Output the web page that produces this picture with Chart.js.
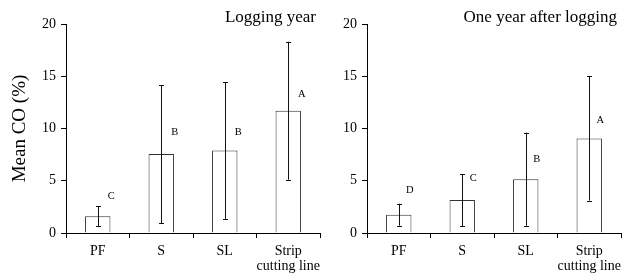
<!DOCTYPE html>
<html>
<head>
<meta charset="utf-8">
<script src="https://cdn.jsdelivr.net/npm/chart.js@4/dist/chart.umd.min.js"></script>
<style>
  html, body { margin: 0; padding: 0; background: #fff; }
  #wrap { position: relative; width: 624px; height: 275px; overflow: hidden; }
  .panel { position: absolute; top: 0; height: 275px; }
  #p1 { left: 0; width: 322px; }
  #p2 { left: 322px; width: 302px; }
</style>
</head>
<body>
<div id="wrap">
  <div class="panel" id="p1"><canvas id="c1"></canvas></div>
  <div class="panel" id="p2"><canvas id="c2"></canvas></div>
</div>
<script>
// ---- data ----
const categories = ["PF", "S", "SL", ["Strip", "cutting line"]];
const yTicks = [0, 5, 10, 15, 20];

const loggingMean = [1.6, 7.55, 7.9, 11.7];
const loggingErr = [0.95, 6.6, 6.55, 6.6];
const loggingLetters = ["C", "B", "B", "A"];
const loggingLetterY = [3.5, 9.65, 9.65, 13.3];

const afterMean = [1.75, 3.15, 5.15, 9.05];
const afterErr = [1.05, 2.5, 4.45, 5.95];
const afterLetters = ["D", "C", "B", "A"];
const afterLetterY = [4.07, 5.26, 7.1, 10.83];

const titles = ["Logging year", "One year after logging"];
const yAxisTitle = "Mean CO (%)";

// ---- drawing ----
const FONT = "'Liberation Serif', 'Times New Roman', serif";
Chart.defaults.font.family = FONT;
Chart.defaults.color = "#000";

const overlay = {
  id: "overlay",
  afterDatasetsDraw(chart, args, opts) {
    const ctx = chart.ctx;
    const xs = chart.scales.x, ys = chart.scales.y;
    ctx.save();
    // error bars
    ctx.strokeStyle = "#111";
    ctx.lineWidth = 1;
    opts.mean.forEach((m, i) => {
      const x = Math.round(xs.getPixelForValue(i)) + 0.5;
      const yT = ys.getPixelForValue(m + opts.err[i]);
      const yB = ys.getPixelForValue(m - opts.err[i]);
      ctx.beginPath();
      ctx.moveTo(x, yT); ctx.lineTo(x, yB);
      ctx.moveTo(x - 2.5, Math.round(yT) + 0.5); ctx.lineTo(x + 2.5, Math.round(yT) + 0.5);
      ctx.moveTo(x - 2.5, Math.round(yB) + 0.5); ctx.lineTo(x + 2.5, Math.round(yB) + 0.5);
      ctx.stroke();
    });
    // letters
    ctx.fillStyle = "#000";
    ctx.font = "10.5px " + FONT;
    ctx.textAlign = "center";
    ctx.textBaseline = "middle";
    opts.letters.forEach((l, i) => {
      ctx.fillText(l, xs.getPixelForValue(i) + opts.letterDx, ys.getPixelForValue(opts.letterY[i]));
    });
    // panel title
    ctx.font = "17px " + FONT;
    ctx.textAlign = "right";
    ctx.textBaseline = "middle";
    ctx.fillText(opts.title, chart.chartArea.right - 4, 18);
    ctx.restore();
  }
};

function makeChart(id, mean, err, letters, letterY, letterDx, title, yWidth, showYTitle, padRight) {
  return new Chart(document.getElementById(id), {
    type: "bar",
    data: {
      labels: categories,
      datasets: [{
        data: mean,
        backgroundColor: "#fff",
        borderColor: "#333",
        borderWidth: 1,
        categoryPercentage: 1,
        barPercentage: 0.4
      }]
    },
    options: {
      responsive: true,
      maintainAspectRatio: false,
      animation: false,
      events: [],
      layout: { padding: { top: 24, right: padRight, left: 0, bottom: 0 } },
      plugins: {
        legend: { display: false },
        tooltip: { enabled: false },
        overlay: { mean, err, letters, letterY, letterDx, title }
      },
      scales: {
        x: {
          grid: { offset: true, drawOnChartArea: false, drawTicks: true, tickLength: 5, color: "#000" },
          border: { display: true, color: "#000", width: 1 },
          ticks: { font: { size: 14, lineHeight: 1.05 }, padding: 6, maxRotation: 0, autoSkip: false, color: "#000" },
          afterFit: s => { s.height = 42; s.paddingLeft = 0; s.paddingRight = 0; }
        },
        y: {
          min: 0, max: 20,
          afterBuildTicks: s => { s.ticks = yTicks.map(v => ({ value: v })); },
          grid: { drawOnChartArea: false, drawTicks: true, tickLength: 5, color: "#000" },
          border: { display: true, color: "#000", width: 1 },
          ticks: { font: { size: 14 }, padding: 5, color: "#000" },
          title: { display: showYTitle, text: yAxisTitle, font: { size: 19 }, padding: { top: 9, bottom: 0 }, color: "#000" },
          afterFit: s => { s.width = yWidth; }
        }
      }
    },
    plugins: [overlay]
  });
}

makeChart("c1", loggingMean, loggingErr, loggingLetters, loggingLetterY, 13.5, titles[0], 66, true, 2);
makeChart("c2", afterMean, afterErr, afterLetters, afterLetterY, 11, titles[1], 45, false, 3);
</script>
</body>
</html>
